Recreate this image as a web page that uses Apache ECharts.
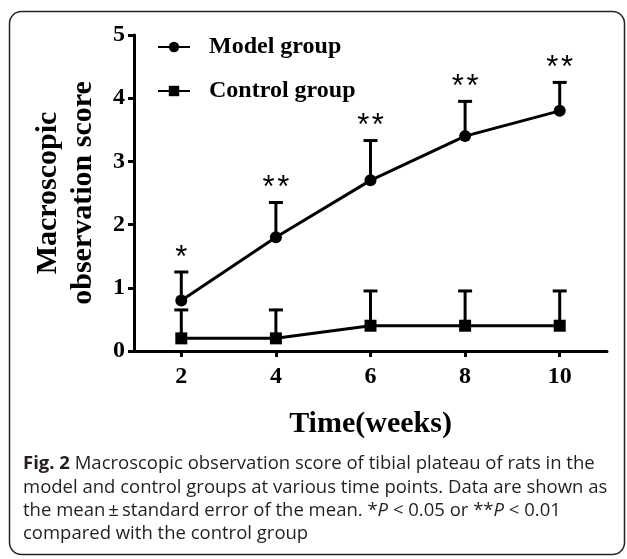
<!DOCTYPE html>
<html>
<head>
<meta charset="utf-8">
<script src="https://cdn.jsdelivr.net/npm/echarts@6/dist/echarts.min.js"></script>
<style>
  html, body { margin: 0; padding: 0; background: #fff; }
  #chart { width: 627px; height: 559px; }
</style>
</head>
<body>
<div id="chart"></div>
<script>
  var weeks = [2, 4, 6, 8, 10];
  var modelMean = [0.8, 1.8, 2.7, 3.4, 3.8];
  var modelSE = [0.45, 0.55, 0.63, 0.55, 0.45];
  var controlMean = [0.2, 0.2, 0.4, 0.4, 0.4];
  var controlSE = [0.45, 0.45, 0.55, 0.55, 0.55];
  var stars = ['*', '*\u200a*', '*\u200a*', '*\u200a*', '*\u200a*'];
  var xTicks = [2, 4, 6, 8, 10];

  var serif = 'Liberation Serif';

  // upper error bar (mean -> mean + SE) with a cap, plus optional significance mark
  function errorBars(name, mean, se, marks) {
    return {
      name: name + ' SE',
      type: 'custom',
      z: 1,
      silent: true,
      encode: {x: 0, y: [1, 2]},
      data: weeks.map(function (w, i) {
        return [w, mean[i], mean[i] + se[i]];
      }),
      renderItem: function (params, api) {
        var base = api.coord([api.value(0), api.value(1)]);
        var top = api.coord([api.value(0), api.value(2)]);
        var kids = [
          {type: 'line', shape: {x1: base[0], y1: base[1], x2: top[0], y2: top[1]},
            style: {stroke: '#000', lineWidth: 3}},
          {type: 'line', shape: {x1: top[0] - 7, y1: top[1], x2: top[0] + 7, y2: top[1]},
            style: {stroke: '#000', lineWidth: 3}}
        ];
        var m = marks ? marks[params.dataIndex] : '';
        if (m) {
          kids.push({
            type: 'text', x: top[0], y: top[1] - 14,
            style: {text: m, fill: '#000', font: '31px "Liberation Sans"', align: 'center', verticalAlign: 'middle'}
          });
        }
        return {type: 'group', children: kids};
      }
    };
  }

  var captionStyle = {
    fontFamily: 'Open Sans',
    fontSize: 18.5,
    fill: '#231f20',
    rich: {
      b: {fontFamily: 'Open Sans', fontSize: 18.5, fontWeight: 'bold', color: '#231f20'},
      i: {fontFamily: 'Open Sans', fontSize: 18.5, fontStyle: 'italic', color: '#231f20'}
    }
  };

  function captionLine(text, y) {
    return {
      type: 'text', left: 23, top: y,
      style: Object.assign({text: text}, captionStyle)
    };
  }

  var option = {
    animation: false,
    backgroundColor: '#fff',
    grid: {left: 134, right: 20, top: 35, bottom: 208, outerBoundsMode: 'none'},
    legend: {
      orient: 'vertical',
      left: 152,
      top: 30,
      itemWidth: 32,
      itemHeight: 13,
      itemGap: 20,
      data: ['Model group', 'Control group'],
      textStyle: {fontFamily: serif, fontWeight: 'bold', fontSize: 24, color: '#000', padding: [0, 0, 0, 14]}
    },
    xAxis: {
      type: 'value',
      min: 1,
      max: 11,
      name: 'Time(weeks)',
      nameLocation: 'middle',
      nameGap: 58,
      nameTextStyle: {fontFamily: serif, fontWeight: 'bold', fontSize: 30, color: '#000'},
      axisLine: {show: true, lineStyle: {color: '#000', width: 3}},
      axisTick: {show: true, length: 6, customValues: xTicks, lineStyle: {color: '#000', width: 3}},
      axisLabel: {customValues: xTicks, margin: 14, fontFamily: serif, fontWeight: 'bold', fontSize: 24, color: '#000'},
      splitLine: {show: false}
    },
    yAxis: {
      type: 'value',
      min: 0,
      max: 5,
      interval: 1,
      name: 'Macroscopic\nobservation score',
      nameLocation: 'middle',
      nameGap: 33,
      nameTextStyle: {fontFamily: serif, fontWeight: 'bold', fontSize: 30, lineHeight: 35, color: '#000'},
      axisLine: {show: true, lineStyle: {color: '#000', width: 3}},
      axisTick: {show: true, length: 6, lineStyle: {color: '#000', width: 3}},
      axisLabel: {margin: 9, fontFamily: serif, fontWeight: 'bold', fontSize: 24, color: '#000'},
      splitLine: {show: false}
    },
    series: [
      errorBars('Model group', modelMean, modelSE, stars),
      errorBars('Control group', controlMean, controlSE, null),
      {
        name: 'Model group',
        type: 'line',
        z: 3,
        symbol: 'circle',
        symbolSize: 12,
        data: weeks.map(function (w, i) { return [w, modelMean[i]]; }),
        lineStyle: {color: '#000', width: 3},
        itemStyle: {color: '#000'}
      },
      {
        name: 'Control group',
        type: 'line',
        z: 3,
        symbol: 'rect',
        symbolSize: 12,
        data: weeks.map(function (w, i) { return [w, controlMean[i]]; }),
        lineStyle: {color: '#000', width: 3},
        itemStyle: {color: '#000'}
      }
    ],
    graphic: [
      {
        type: 'rect',
        shape: {x: 9.5, y: 11.5, width: 615, height: 543, r: 12},
        style: {fill: 'none', stroke: '#222', lineWidth: 1.5}
      },
      captionLine('{b|Fig. 2} Macroscopic observation score of tibial plateau of rats in the', 454),
      captionLine('model and control groups at various time points. Data are shown as', 478),
      captionLine('the mean\u2009±\u2009standard error of the mean. *{i|P} < 0.05 or **{i|P} < 0.01', 501),
      captionLine('compared with the control group', 524)
    ]
  };

  echarts.init(document.getElementById('chart')).setOption(option);
</script>
</body>
</html>
